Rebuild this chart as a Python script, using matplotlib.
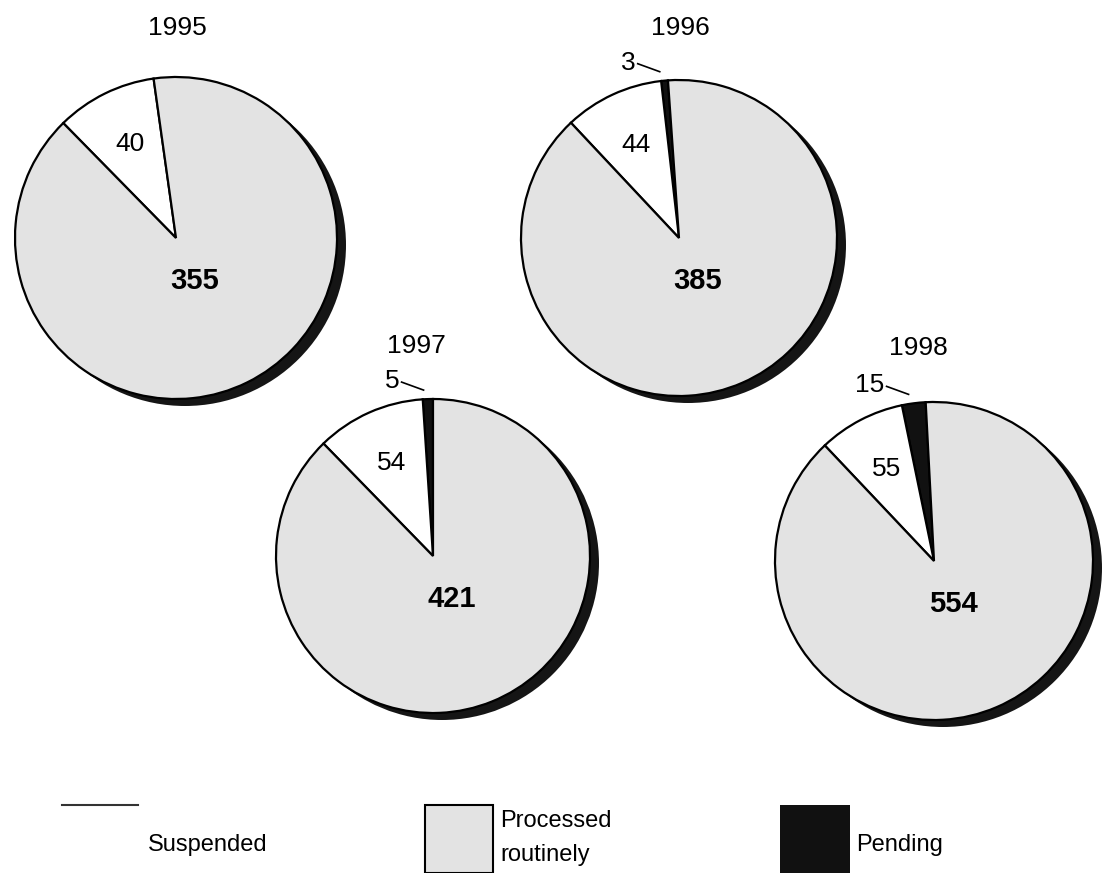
import numpy as np
import matplotlib
matplotlib.use("Agg")
import matplotlib.pyplot as plt
from matplotlib.patches import Circle, Rectangle

plt.rcParams['font.family'] = ['Liberation Sans', 'DejaVu Sans']

# ---- data ----
years = ["1995", "1996", "1997", "1998"]
pending = [0, 3, 5, 15]
suspended = [40, 44, 54, 55]
processed = [355, 385, 421, 554]
legend_labels = ["Suspended", "Processed\nroutinely", "Pending"]

# ---- layout (pixel coordinates, y measured from top) ----
W, H = 1107, 873
centers = [(176, 238), (679, 238), (433, 556), (934, 561)]
radii = [161, 158, 157, 159]
start_angles = [98, 94, 90, 93]
year_pos = [(177, 28), (680, 28), (416, 346), (918, 348)]

col_pend = "#111111"
col_susp = "#ffffff"
col_proc = "#e3e3e3"

fig = plt.figure(figsize=(W / 100, H / 100), dpi=100)
ax = fig.add_axes([0, 0, 1, 1])

for i in range(4):
    cx, cyp = centers[i]
    cy = H - cyp
    r = radii[i]
    # shadow
    ax.add_patch(Circle((cx + 9, cy - 7), r, facecolor="#151515", edgecolor="none", zorder=1))
    vals = [pending[i], suspended[i], processed[i]]
    cols = [col_pend, col_susp, col_proc]
    wedges, _ = ax.pie(vals, colors=cols, startangle=start_angles[i], counterclock=True,
                       center=(cx, cy), radius=r, frame=True,
                       wedgeprops=dict(edgecolor="black", linewidth=1.6))
    for w in wedges:
        w.set_zorder(2)
    total = sum(vals)
    # suspended label
    a0 = start_angles[i] + 360 * pending[i] / total
    a1 = a0 + 360 * suspended[i] / total
    am = np.deg2rad((a0 + a1) / 2)
    ax.text(cx + 0.65 * r * np.cos(am), cy + 0.65 * r * np.sin(am), str(suspended[i]),
            ha="center", va="center", fontsize=19, zorder=3)
    # processed label
    ax.text(cx + 19, cy - 43, str(processed[i]), ha="center", va="center",
            fontsize=21, fontweight="bold", zorder=3)
    # pending label with leader
    if pending[i] > 0:
        pm = np.deg2rad(start_angles[i] + 180 * pending[i] / total)
        ex = cx + (r + 9) * np.cos(pm) - 4
        ey = cy + (r + 9) * np.sin(pm)
        sx, sy = ex - 22, ey + 8
        ax.plot([sx, ex], [sy, ey], color="black", lw=1.2, zorder=3)
        ax.text(sx - 2, sy + 1, str(pending[i]), ha="right", va="center", fontsize=19, zorder=3)
    # year
    yx, yy = year_pos[i]
    ax.text(yx, H - yy, years[i], ha="center", va="center", fontsize=19)

# ---- legend ----
ax.plot([62, 138], [H - 805, H - 805], color="#333333", lw=1.5)
ax.text(148, H - 845, legend_labels[0], ha="left", va="center", fontsize=17)
ax.add_patch(Rectangle((425, 0), 68, H - 805 - 0, facecolor=col_proc, edgecolor="black", lw=1.5))
ax.text(500, H - 838, legend_labels[1], ha="left", va="center", fontsize=17, linespacing=1.65)
ax.add_patch(Rectangle((780, 0), 70, H - 805, facecolor=col_pend, edgecolor="none"))
ax.text(856, H - 845, legend_labels[2], ha="left", va="center", fontsize=17)

ax.set_xlim(0, W)
ax.set_ylim(0, H)
ax.set_aspect("equal")
ax.axis("off")

fig.savefig("out.png", dpi=100)
